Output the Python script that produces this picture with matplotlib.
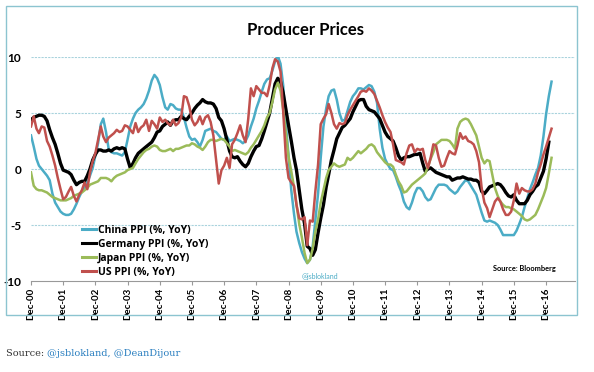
import pandas as pd
import matplotlib.pyplot as plt
import matplotlib.dates as mdates
from matplotlib.patches import Rectangle

plt.rcParams['font.family'] = ['Lato', 'DejaVu Sans']

# monthly YoY %, starting Dec-2000
china = [
    3.0,
    2.0, 0.9, 0.3, 0.0, -0.3, -0.6, -1.0, -2.2, -3.0, -3.4, -3.8, -4.0,
    -4.1, -4.1, -4.0, -3.6, -3.1, -2.5, -2.0, -1.7, -1.2, -0.6, 0.1, 1.2,
    2.3, 4.0, 4.5, 3.3, 1.8, 1.5, 1.4, 1.4, 1.3, 1.2, 1.5, 2.6,
    3.8, 4.5, 5.0, 5.3, 5.5, 5.8, 6.3, 7.0, 7.9, 8.4, 8.1, 7.5,
    6.4, 5.5, 5.3, 5.8, 5.7, 5.4, 5.3, 5.3, 4.6, 3.7, 2.9, 2.6,
    2.7, 2.4, 2.0, 2.6, 3.4, 3.5, 3.6, 3.4, 3.3, 3.0, 2.7, 2.6,
    2.9, 2.5, 2.6, 2.7, 2.6, 2.5, 2.3, 2.5, 3.0, 3.8, 4.5, 5.4,
    6.1, 6.9, 7.6, 8.0, 8.1, 8.8, 9.6, 10.1, 9.4, 7.5, 4.0, 1.2,
    -1.9, -4.0, -5.6, -6.6, -7.4, -8.0, -8.4, -8.1, -6.9, -4.6, -2.2, 1.0,
    3.8, 5.4, 6.5, 7.0, 7.1, 6.2, 5.0, 4.3, 4.4, 5.2, 6.0, 6.5,
    6.8, 7.2, 7.2, 7.1, 7.3, 7.5, 7.4, 6.9, 5.9, 3.6, 1.9, 0.9,
    0.4, 0.0, -0.1, -0.7, -1.4, -2.0, -2.9, -3.4, -3.6, -3.0, -2.2, -1.7,
    -1.7, -2.0, -2.5, -2.8, -2.7, -2.2, -1.7, -1.4, -1.4, -1.4, -1.5, -1.8,
    -2.0, -2.2, -2.0, -1.6, -1.3, -1.0, -1.1, -1.5, -1.9, -2.3, -3.1, -3.9,
    -4.6, -4.7, -4.6, -4.7, -4.8, -5.0, -5.4, -5.9, -5.9, -5.9, -5.9, -5.9,
    -5.5, -4.9, -4.3, -3.4, -2.6, -1.8, -1.2, -0.5, 0.1, 1.2, 2.9, 4.9,
    6.5, 7.8,
]
germany = [
    4.4,
    4.6, 4.7, 4.8, 4.8, 4.7, 4.3, 3.5, 2.8, 2.2, 1.4, 0.5, -0.1,
    -0.2, -0.3, -0.5, -1.0, -1.4, -1.2, -1.1, -1.1, -0.6, 0.0, 0.8, 1.3,
    1.7, 1.7, 1.6, 1.6, 1.7, 1.6, 1.8, 1.9, 1.8, 1.9, 1.8, 0.9,
    0.1, 0.5, 1.0, 1.4, 1.6, 1.8, 2.0, 2.2, 2.4, 2.8, 3.3, 3.4,
    3.8, 4.0, 4.2, 3.9, 4.3, 4.4, 4.4, 4.7, 4.5, 4.4, 4.7, 5.0,
    5.4, 5.7, 5.9, 6.2, 6.0, 5.9, 5.9, 5.8, 5.4, 4.6, 4.3, 3.6,
    2.6, 1.6, 1.1, 1.0, 1.1, 0.7, 0.4, 0.2, 0.5, 1.1, 1.6, 2.0,
    2.1, 2.7, 3.4, 4.2, 5.0, 6.3, 7.6, 8.1, 7.8, 6.8, 5.3, 3.9,
    2.5, 1.0, -0.1, -1.9, -3.6, -4.9, -6.9, -7.1, -7.7, -7.2, -5.7, -4.4,
    -3.2, -1.6, -0.5, 0.8, 1.7, 2.7, 3.2, 3.7, 3.9, 4.2, 4.5, 5.1,
    5.6, 6.1, 6.2, 6.2, 5.6, 5.3, 5.2, 5.1, 4.8, 4.5, 3.9, 3.3,
    2.9, 2.7, 2.5, 1.9, 1.2, 0.8, 1.0, 1.1, 1.1, 1.2, 1.3, 1.3,
    1.4, 0.5, -0.2, 0.0, 0.1, -0.1, -0.3, -0.4, -0.5, -0.6, -0.7, -0.7,
    -1.0, -0.9, -0.8, -0.8, -0.7, -0.8, -0.9, -0.9, -1.0, -1.0, -1.2, -2.0,
    -2.2, -1.9, -1.6, -1.5, -1.4, -1.3, -1.4, -1.7, -2.1, -2.4, -2.5, -2.3,
    -2.8, -3.1, -3.1, -3.1, -2.8, -2.3, -2.0, -1.6, -1.4, -0.8, -0.2, 0.9,
    2.4,
]
japan = [
    -0.3,
    -1.5, -1.8, -1.9, -1.9, -2.0, -2.1, -2.3, -2.5, -2.6, -2.7, -2.8, -2.8,
    -2.8, -2.7, -2.6, -2.4, -2.3, -2.2, -2.1, -1.9, -1.7, -1.4, -1.3, -1.2,
    -1.1, -0.8, -0.8, -0.8, -0.9, -1.1, -0.8, -0.6, -0.5, -0.4, -0.3, -0.1,
    0.0, 0.1, 0.5, 0.9, 1.2, 1.5, 1.7, 1.8, 2.0, 2.1, 2.0, 1.7,
    1.6, 1.6, 1.7, 1.8, 1.6, 1.8, 1.8, 1.9, 2.0, 2.1, 2.1, 2.3,
    2.2, 2.0, 1.9, 1.7, 2.0, 2.4, 2.6, 2.6, 2.5, 2.6, 2.7, 2.6,
    2.3, 2.0, 1.6, 1.7, 1.6, 1.5, 1.4, 1.3, 1.5, 1.9, 2.2, 2.6,
    3.0, 3.4, 3.9, 4.6, 5.0, 6.0, 7.1, 7.7, 7.0, 5.3, 3.2, 1.1,
    -0.2, -1.6, -3.2, -4.9, -6.1, -7.5, -8.4, -8.1, -7.1, -5.6, -4.5, -3.0,
    -1.9, -0.8, -0.1, 0.2, 0.5, 0.3, 0.2, 0.3, 0.4, 1.0, 0.8, 1.0,
    1.3, 1.6, 1.4, 1.6, 1.8, 2.1, 2.2, 2.0, 1.5, 1.2, 0.9, 0.6,
    0.4, 0.4, 0.2, -0.5, -1.1, -1.5, -2.1, -2.0, -1.7, -1.4, -1.2, -1.0,
    -0.8, -0.6, -0.4, 0.2, 0.9, 1.5, 2.2, 2.4, 2.6, 2.6, 2.6, 2.5,
    2.2, 1.8, 3.6, 4.2, 4.4, 4.5, 4.4, 4.0, 3.5, 3.0, 2.0, 1.0,
    0.5, 0.8, 0.7, -0.5, -1.7, -2.4, -2.9, -3.2, -3.4, -3.4, -3.5, -3.6,
    -3.8, -4.0, -4.2, -4.5, -4.6, -4.5, -4.3, -4.1, -3.6, -3.0, -2.4, -1.7,
    -0.4, 1.0,
]
us = [
    3.8,
    4.7, 3.6, 3.2, 3.8, 3.7, 2.5, 2.0, 1.2, 0.3, -0.8, -1.8, -2.7,
    -2.5, -2.0, -1.6, -2.4, -2.9, -2.3, -1.9, -1.2, -1.8, -0.3, 0.7, 1.4,
    2.6, 3.8, 2.9, 2.4, 2.8, 3.0, 3.2, 3.5, 3.3, 3.4, 3.9, 3.8,
    3.5, 3.2, 4.1, 3.3, 3.7, 3.9, 4.4, 3.4, 4.3, 4.0, 3.6, 4.6,
    4.2, 4.4, 4.1, 3.9, 4.4, 3.9, 4.1, 4.6, 6.5, 6.4, 5.6, 4.4,
    3.9, 4.2, 4.7, 4.0, 4.6, 4.8, 4.2, 3.0, 0.8, -1.3, -0.1, 0.3,
    1.0, 0.1, 2.2, 2.6, 3.2, 3.9, 3.0, 2.4, 4.5, 7.2, 6.5, 7.4,
    7.1, 6.8, 6.8, 6.5, 7.5, 9.0, 9.8, 9.6, 8.7, 5.2, 1.0, -0.8,
    -1.2, -1.5, -3.2, -4.4, -4.5, -4.3, -6.8, -4.6, -4.7, -2.0, 0.4, 4.0,
    4.5, 4.9, 5.8, 5.0, 4.0, 3.6, 4.1, 4.0, 4.1, 4.8, 5.3, 5.7,
    6.1, 6.5, 6.9, 7.0, 6.9, 7.2, 7.0, 6.7, 6.1, 5.5, 4.8, 4.2,
    3.7, 3.3, 2.2, 0.8, 0.7, 0.6, 0.4, 1.4, 2.1, 2.2, 1.5, 1.8,
    1.7, 1.8, 0.8, 0.1, 1.0, 2.2, 2.1, 1.0, 0.2, 0.3, 1.0, 1.6,
    1.4, 1.3, 2.1, 3.2, 2.7, 2.9, 2.5, 2.4, 2.2, 1.6, 0.6, -1.7,
    -3.0, -3.5, -4.3, -3.6, -2.9, -2.6, -2.9, -3.6, -4.1, -4.1, -3.8, -2.8,
    -1.3, -2.2, -1.7, -1.9, -2.0, -2.0, -1.8, -1.3, -0.3, 0.4, 1.3, 2.0,
    2.8, 3.6,
]

labels = ['China PPI (%, YoY)', 'Germany PPI (%, YoY)', 'Japan PPI (%, YoY)', 'US PPI (%, YoY)']
colors = ['#4bacc6', '#000000', '#9bbb59', '#c0504d']
widths = [1.8, 2.4, 1.8, 1.8]

W, H = 594, 372
fig = plt.figure(figsize=(W / 100, H / 100), dpi=100)
fig.patch.set_facecolor('white')

# chart frame
fig.patches.append(Rectangle((6 / W, 1 - 315 / H), 571 / W, 309 / H, transform=fig.transFigure,
                             fill=False, edgecolor='#8cc4d0', linewidth=1.0))

ax = fig.add_axes([31 / W, 1 - 281 / H, 544 / W, 224 / H])

dates = pd.date_range('2000-12-01', periods=len(china), freq='MS')
for series, lab, col, lw in zip([china, germany, japan, us], labels, colors, widths):
    ax.plot(dates[:len(series)], series, color=col, lw=lw, label=lab)

ax.set_ylim(-10, 10)
ax.set_xlim(pd.Timestamp('2000-12-01'), pd.Timestamp('2017-10-25'))
ax.set_yticks([-10, -5, 0, 5, 10])
ax.set_yticklabels(['-10', '-5', '0', '5', '10'], fontweight='bold', fontsize=8.5)
for yv in [-5, 0, 5, 10]:
    ax.axhline(yv, color='#a9d3dd', lw=0.8, ls=(0, (2, 1)), zorder=0)

xt = pd.date_range('2000-12-01', '2016-12-01', freq='12MS')
ax.set_xticks(xt)
ax.xaxis.set_major_formatter(mdates.DateFormatter('%b-%y'))
plt.setp(ax.get_xticklabels(), rotation=90, fontweight='bold', fontsize=7)
ax.tick_params(axis='x', length=3, width=0.8, color='#999999', pad=1.5)
ax.tick_params(axis='y', length=0, pad=7)

for s in ['top', 'right', 'left']:
    ax.spines[s].set_visible(False)
ax.spines['bottom'].set_color('#999999')
ax.spines['bottom'].set_linewidth(0.8)

leg = ax.legend(loc='upper left', bbox_to_anchor=(82 / W, 1 - 224.5 / H), bbox_transform=fig.transFigure,
                frameon=False, borderpad=0, borderaxespad=0, handlelength=1.35, handletextpad=0.15,
                labelspacing=0.3, prop={'family': 'Open Sans', 'weight': 'bold', 'size': 7.5})
for line in leg.get_lines():
    line.set_linewidth(2.2)

fig.text(305 / W, 1 - 30 / H, 'Producer Prices', ha='center', va='center', fontsize=12, fontweight='bold')
fig.text(556 / W, 1 - 268 / H, 'Source: Bloomberg', ha='right', va='center', fontsize=5.3, fontweight='bold')
fig.text(302 / W, 1 - 276 / H, '@jsblokland', ha='left', va='center', fontsize=5, color='#4bacc6')

src = fig.text(6 / W, 1 - 353 / H, 'Source: ', ha='left', va='center', fontsize=7.0,
               family='DejaVu Serif', color='#333333')
ax.annotate('@jsblokland, @DeanDijour', xy=(1, 0), xycoords=src, va='bottom', ha='left',
            fontsize=7.0, family='DejaVu Serif', color='#2a7fc0', annotation_clip=False)

fig.savefig('out.png', dpi=100)
